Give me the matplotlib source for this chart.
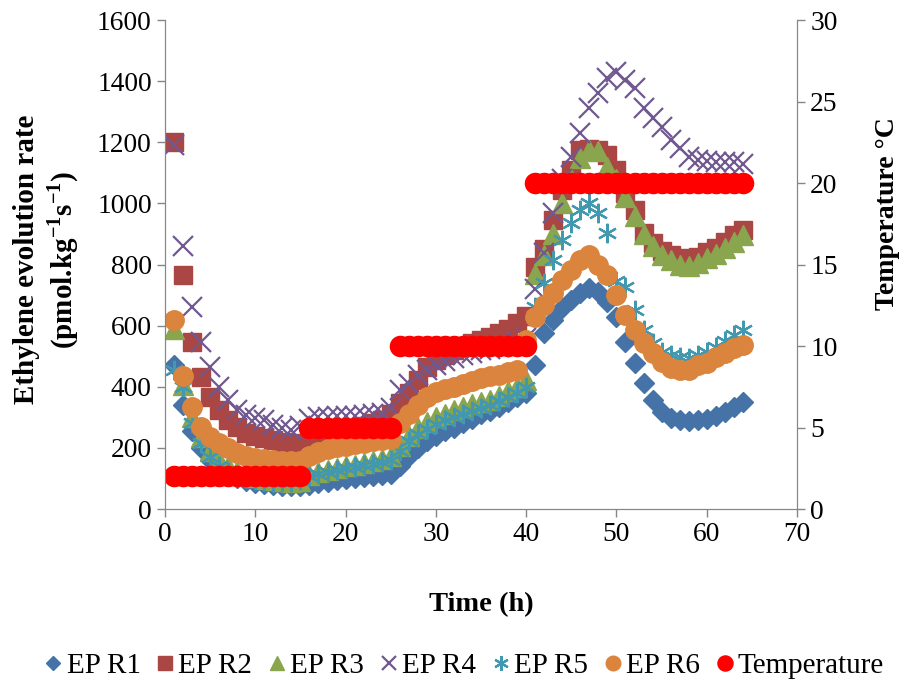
import matplotlib
matplotlib.use('Agg')
import matplotlib.pyplot as plt

plt.rcParams['font.family'] = ['Liberation Serif', 'DejaVu Serif']
plt.rcParams['mathtext.fontset'] = 'custom'
plt.rcParams['mathtext.rm'] = 'Liberation Serif'
plt.rcParams['mathtext.bf'] = 'Liberation Serif:bold'

# sampling times (h)
hours = list(range(1, 65))

ep_r1 = [470, 340, 255, 200, 160, 130, 112, 100, 92, 86, 82, 78, 76, 75, 76,
         80, 85, 90, 94, 98, 101, 104, 107, 110, 113,
         140, 175, 200, 222, 240, 255, 265, 280, 295, 310, 320, 335, 350, 365, 380,
         470, 575, 618, 657, 684, 706, 722, 711, 678, 629, 547, 477, 411, 357, 318,
         297, 290, 288, 290, 295, 305, 318, 335, 350]
ep_r2 = [1200, 765, 548, 433, 367, 324, 291, 268, 250, 240, 232, 226, 220, 215, 212,
         215, 222, 232, 245, 258, 266, 272, 280, 290, 310,
         346, 379, 422, 466, 488, 505, 520, 530, 542, 553, 564, 575, 590, 610, 630,
         793, 850, 946, 1044, 1110, 1175, 1178, 1175, 1158, 1110, 1033, 978, 902, 869, 845,
         830, 820, 815, 825, 840, 855, 875, 895, 913]
ep_r3 = [590, 405, 300, 235, 190, 160, 140, 125, 113, 105, 98, 94, 92, 90, 92,
         110, 120, 128, 135, 140, 145, 150, 158, 165, 172,
         205, 240, 265, 285, 300, 312, 324, 333, 342, 350, 357, 370, 385, 400, 422,
         770, 830, 900, 1000, 1080, 1150, 1175, 1170, 1120, 1080, 1020, 960, 900, 860, 830,
         815, 800, 795, 805, 820, 835, 855, 875, 895]
ep_r4 = [1190, 860, 662, 548, 466, 400, 357, 324, 308, 297, 290, 275, 264, 260, 270,
         295, 300, 302, 305, 305, 305, 307, 310, 315, 330,
         389, 410, 440, 455, 470, 485, 495, 504, 512, 520, 525, 530, 535, 545, 560,
         720, 837, 968, 1080, 1153, 1229, 1311, 1360, 1410, 1431, 1404, 1377, 1311, 1278, 1251,
         1207, 1180, 1153, 1142, 1138, 1135, 1135, 1135, 1130]
ep_r5 = [455, 398, 280, 215, 170, 140, 122, 110, 102, 96, 92, 90, 90, 90, 95,
         108, 115, 122, 128, 133, 138, 143, 148, 153, 160,
         190, 222, 245, 262, 278, 290, 300, 310, 320, 330, 340, 352, 365, 380, 400,
         660, 739, 815, 880, 935, 978, 1000, 967, 902, 745, 727, 651, 586, 542, 515,
         505, 498, 495, 505, 515, 530, 550, 568, 585]
ep_r6 = [618, 435, 335, 269, 237, 215, 199, 182, 172, 168, 163, 160, 158, 157, 158,
         172, 185, 195, 202, 207, 212, 217, 221, 225, 228,
         280, 310, 340, 367, 382, 392, 400, 410, 420, 430, 435, 440, 447, 455, 553,
         629, 668, 706, 749, 782, 815, 831, 798, 766, 700, 635, 586, 542, 509, 482,
         460, 455, 455, 471, 477, 498, 509, 526, 537]
temperature = [2] * 15 + [5] * 10 + [10] * 15 + [20] * 24

series = [
    ('EP R1', ep_r1, dict(marker='D', ms=10, color='#4572A7')),
    ('EP R2', ep_r2, dict(marker='s', ms=13, color='#AA4643')),
    ('EP R3', ep_r3, dict(marker='^', ms=14, color='#89A54E')),
    ('EP R4', ep_r4, dict(marker='x', ms=14, color='#71588F', mew=1.6)),
    ('EP R5', ep_r5, dict(marker=(6, 2, 0), ms=14, color='#4198AF', mew=1.6)),
    ('EP R6', ep_r6, dict(marker='o', ms=14, color='#DB843D')),
]

fig = plt.figure(figsize=(9.05, 6.86), dpi=100)
ax = fig.add_axes([0.1823, 0.258, 0.6984, 0.7128])
ax2 = ax.twinx()

handles = []
for name, values, style in series:
    h, = ax.plot(hours, values, linestyle='none', label=name, **style)
    handles.append(h)
h, = ax2.plot(hours, temperature, linestyle='none', marker='o', ms=14.5,
              color='#FF0000', label='Temperature')
handles.append(h)

ax.set_xlim(0, 70)
ax.set_ylim(0, 1600)
ax2.set_ylim(0, 30)
ax.set_xticks(range(0, 71, 10))
ax.set_yticks(range(0, 1601, 200))
ax2.set_yticks(range(0, 31, 5))

grey = '#868686'
for a in (ax, ax2):
    a.spines['top'].set_visible(False)
    for s in ('left', 'right', 'bottom'):
        a.spines[s].set_color(grey)
    a.tick_params(colors=grey, labelcolor='black', labelsize=19.8, length=6, width=1)

ax.set_xlabel('Time (h)', fontsize=20.5, fontweight='bold', labelpad=32)
ax.set_ylabel('Ethylene evolution rate\n(pmol.kg$^{\\mathbf{-1}}$s$^{\\mathbf{-1}}$)',
              fontsize=21, fontweight='bold', linespacing=1.2)
ax.yaxis.set_label_coords(-0.133, 0.51)
ax2.set_ylabel('Temperature \u00b0C', fontsize=20, fontweight='bold')
ax2.yaxis.set_label_coords(1.123, 0.605)

fig.legend(handles=handles, loc='center', bbox_to_anchor=(0.513, 0.029), ncol=7,
           frameon=False, fontsize=21, markerscale=0.75, handlelength=0.6,
           handletextpad=0.15, columnspacing=0.55)

fig.savefig('out.png', dpi=100)
